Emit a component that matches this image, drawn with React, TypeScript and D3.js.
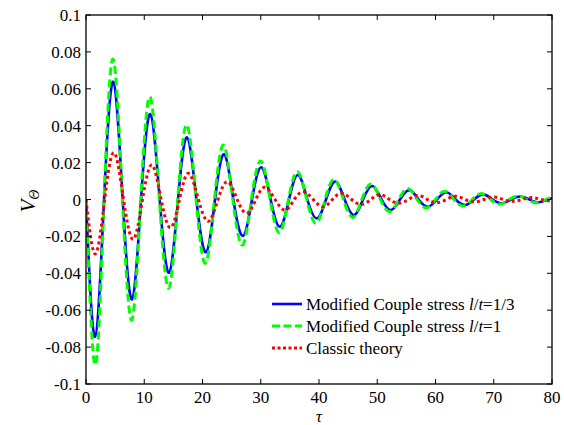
import React from "react";
import * as d3 from "d3";

// Data (tau, V_theta) — extremes and zero crossings
const blueSeries: [number, number][] = [
  [0, 0], [1.55, -0.0744], [3.1, 0], [4.69, 0.0638], [6.3, 0], [7.9, -0.0541], [9.45, 0], [11.04, 0.0463],
  [12.65, 0], [14.25, -0.0397], [15.8, 0], [17.35, 0.0337], [18.95, 0], [20.6, -0.0286], [22.15, 0],
  [23.7, 0.0245], [25.3, 0], [26.95, -0.0198], [28.5, 0], [30.1, 0.0175], [31.7, 0], [33.3, -0.0147],
  [34.85, 0], [36.4, 0.0133], [38.0, 0], [39.65, -0.0102], [41.2, 0], [42.8, 0.0097], [44.4, 0],
  [46.0, -0.0084], [47.55, 0], [49.15, 0.0073], [50.75, 0], [52.35, -0.0057], [53.9, 0], [55.5, 0.0051],
  [57.1, 0], [58.7, -0.0039], [60.25, 0], [61.85, 0.0039], [63.45, 0], [65.05, -0.003], [66.6, 0],
  [68.2, 0.0028], [69.8, 0], [71.4, -0.002], [72.95, 0], [74.55, 0.0016], [76.15, 0], [77.75, -0.0015],
  [79.3, 0], [80, 0.0007],
];

const greenSeries: [number, number][] = [
  [0, 0], [1.6, -0.0897], [3.1, 0], [4.65, 0.0761], [6.25, 0], [7.85, -0.0653], [9.4, 0], [10.98, 0.0557],
  [12.6, 0], [14.2, -0.0481], [15.75, 0], [17.3, 0.0404], [18.9, 0], [20.5, -0.0346], [22.05, 0],
  [23.6, 0.0295], [25.2, 0], [26.85, -0.0247], [28.4, 0], [30.0, 0.0209], [31.6, 0], [33.2, -0.018],
  [34.75, 0], [36.3, 0.0151], [37.9, 0], [39.5, -0.0129], [41.05, 0], [42.6, 0.011], [44.2, 0],
  [45.8, -0.0097], [47.35, 0], [48.95, 0.0084], [50.55, 0], [52.15, -0.0066], [53.7, 0], [55.25, 0.006],
  [56.85, 0], [58.45, -0.0045], [60.0, 0], [61.55, 0.0045], [63.15, 0], [64.75, -0.0035], [66.3, 0],
  [67.9, 0.0033], [69.5, 0], [71.1, -0.0025], [72.65, 0], [74.2, 0.0019], [75.8, 0], [77.4, -0.0018],
  [78.95, 0], [80, 0.0012],
];

const redSeries: [number, number][] = [
  [0, 0], [1.6, -0.0295], [3.2, 0], [4.8, 0.0254], [6.45, 0], [8.1, -0.0216], [9.7, 0], [11.3, 0.0187],
  [12.9, 0], [14.5, -0.0153], [16.05, 0], [17.6, 0.0142], [19.3, 0], [21.0, -0.0118], [22.65, 0],
  [24.3, 0.0096], [25.95, 0], [27.6, -0.0075], [29.15, 0], [30.7, 0.0066], [32.45, 0], [34.2, -0.0057],
  [35.75, 0], [37.3, 0.0042], [39.0, 0], [40.7, -0.0039], [42.3, 0], [43.9, 0.0034], [45.6, 0],
  [47.3, -0.0027], [48.9, 0], [50.5, 0.0026], [52.1, 0], [53.7, -0.002], [55.35, 0], [57.0, 0.0022],
  [58.6, 0], [60.2, -0.0017], [61.85, 0], [63.5, 0.0018], [65.1, 0], [66.7, -0.0013], [68.35, 0],
  [70.0, 0.0014], [71.6, 0], [73.2, -0.001], [74.85, 0], [76.5, 0.0011], [78.1, 0], [80, -0.0008],
];

const xTicks = [0, 10, 20, 30, 40, 50, 60, 70, 80];
const yTicks = [-0.1, -0.08, -0.06, -0.04, -0.02, 0, 0.02, 0.04, 0.06, 0.08, 0.1];
const yTickLabels = ["-0.1", "-0.08", "-0.06", "-0.04", "-0.02", "0", "0.02", "0.04", "0.06", "0.08", "0.1"];

const W = 564;
const H = 425;
const L = 86, R = 552, T = 15, B = 384;
const FONT = "'Liberation Serif', 'Times New Roman', Times, Tinos, 'DejaVu Serif', serif";

export default function App() {
  const x = d3.scaleLinear().domain([0, 80]).range([L, R]);
  const y = d3.scaleLinear().domain([-0.1, 0.1]).range([B, T]);
  const line = d3
    .line<[number, number]>()
    .x((d) => x(d[0]))
    .y((d) => y(d[1]))
    .curve(d3.curveNatural);

  const series = [
    { data: blueSeries, color: "#0000ff", width: 2.6, dash: undefined as string | undefined },
    { data: greenSeries, color: "#00ff00", width: 3, dash: "8,4" },
    { data: redSeries, color: "#ff0000", width: 3, dash: "3,3" },
  ];

  const legendRows = [
    { color: "#0000ff", width: 2.6, dash: undefined as string | undefined, pre: "Modified Couple stress ", val: "=1/3", italic: true },
    { color: "#00ff00", width: 3, dash: "8,3.5", pre: "Modified Couple stress ", val: "=1", italic: true },
    { color: "#ff0000", width: 3, dash: "3,2.5", pre: "Classic theory", val: "", italic: false },
  ];

  const textStyle = { fontFamily: FONT };

  return (
    <svg
      width={W}
      height={H}
      style={{ position: "absolute", left: 0, top: 0, background: "#fff", fontFamily: FONT }}
    >
      <rect x={0} y={0} width={W} height={H} fill="#fff" />
      <defs>
        <clipPath id="plotclip">
          <rect x={L} y={T} width={R - L} height={B - T} />
        </clipPath>
      </defs>
      <g clipPath="url(#plotclip)">
        {series.map((s, i) => (
          <path
            key={i}
            d={line(s.data) || ""}
            fill="none"
            stroke={s.color}
            strokeWidth={s.width}
            strokeDasharray={s.dash}
            strokeLinejoin="round"
          />
        ))}
      </g>
      {/* frame */}
      <rect x={L} y={T} width={R - L} height={B - T} fill="none" stroke="#000" strokeWidth={1.3} />
      {/* x ticks */}
      {xTicks.map((t) => (
        <g key={"x" + t}>
          <line x1={x(t)} x2={x(t)} y1={B} y2={B - 5} stroke="#000" strokeWidth={1} />
          <line x1={x(t)} x2={x(t)} y1={T} y2={T + 5} stroke="#000" strokeWidth={1} />
          <text x={x(t)} y={403} textAnchor="middle" fontSize={17} style={textStyle} fill="#000">
            {t}
          </text>
        </g>
      ))}
      {/* y ticks */}
      {yTicks.map((t, i) => (
        <g key={"y" + i}>
          <line x1={L} x2={L + 5} y1={y(t)} y2={y(t)} stroke="#000" strokeWidth={1} />
          <line x1={R} x2={R - 5} y1={y(t)} y2={y(t)} stroke="#000" strokeWidth={1} />
          <text x={81} y={y(t) + 6} textAnchor="end" fontSize={17} style={textStyle} fill="#000">
            {yTickLabels[i]}
          </text>
        </g>
      ))}
      {/* axis labels */}
      <text x={x(40)} y={421.5} textAnchor="middle" fontSize={16.5} fontStyle="italic" style={textStyle} fill="#000">
        τ
      </text>
      <g transform="translate(35,201) rotate(-90)">
        <text textAnchor="middle" fill="#000" style={textStyle}>
          <tspan fontSize={21} fontStyle="italic">V</tspan>
          <tspan fontSize={14} fontStyle="italic" dy={4}>Θ</tspan>
        </text>
      </g>
      {/* legend */}
      {legendRows.map((r, i) => {
        const cy = 304 + i * 22;
        return (
          <g key={"lg" + i}>
            <line x1={272} x2={302} y1={cy} y2={cy} stroke={r.color} strokeWidth={r.width} strokeDasharray={r.dash} />
            <text x={306} y={cy + 6} fontSize={17} style={textStyle} fill="#000">
              {r.italic ? (
                <>
                  {r.pre}
                  <tspan fontStyle="italic">l</tspan>/<tspan fontStyle="italic">t</tspan>
                  {r.val}
                </>
              ) : (
                r.pre
              )}
            </text>
          </g>
        );
      })}
    </svg>
  );
}
